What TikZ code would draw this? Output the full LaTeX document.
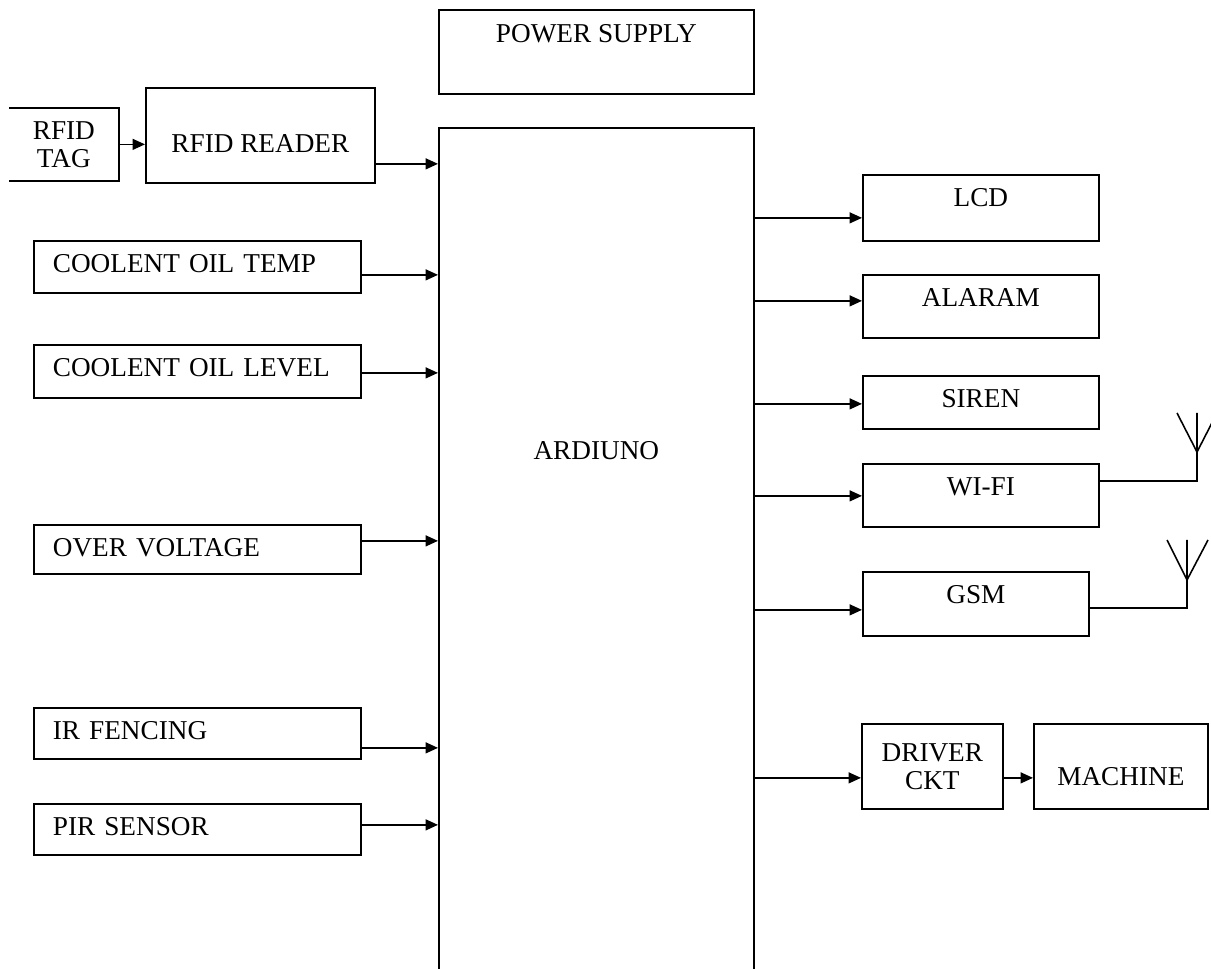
\documentclass[tikz,border=0pt]{standalone}
\usepackage{fontspec}
\setmainfont{Liberation Serif}
\usepackage{tikz}
\usetikzlibrary{arrows.meta}

\begin{document}
\begin{tikzpicture}[
    x=0.02cm, y=-0.02cm,
    font=\fontsize{15.5}{16}\selectfont,
    box/.style={rectangle, draw=black, line width=1pt, inner ysep=0pt, text height=0.64cm, anchor=north west, align=center},
    plainbox/.style={rectangle, draw=black, line width=1pt, anchor=north west, align=center},
    sensor/.style={box, minimum width=6.54cm, text width=5.78cm, inner xsep=0.38cm, align=left},
    output/.style={box, minimum width=4.72cm},
    arrow/.style={-{Triangle[length=2.5mm, width=2.2mm]}, line width=0.9pt},
    wire/.style={line width=0.9pt}
]
\useasboundingbox (0,0) rectangle (1211,969);
\clip (0,0) rectangle (1211,969);

% controller and supply
\node[box, minimum width=6.3cm, text depth=1.03cm] (power) at (438,9.5) {POWER SUPPLY};
\node[box, minimum width=6.3cm, text height=6.64cm, text depth=11cm] (ard) at (438,127) {ARDIUNO};

% inputs
\node[plainbox, draw=none, minimum width=2.16cm, minimum height=1.42cm] (tag) at (9,108) {RFID\\TAG};
\draw[wire] (tag.north west) -- (tag.north east) -- (tag.south east) -- (tag.south west);
\node[box, minimum width=4.58cm, text height=1.3cm, text depth=0.6cm] (reader) at (145,87) {RFID READER};
\node[sensor, text depth=0.4cm] (temp) at (33,240) {COOLENT OIL TEMP};
\node[sensor, text depth=0.42cm] (level) at (33,344) {COOLENT OIL LEVEL};
\node[sensor, text depth=0.34cm] (volt) at (33,524) {OVER VOLTAGE};
\node[sensor, text depth=0.38cm] (ir) at (33,707) {IR FENCING};
\node[sensor, text depth=0.38cm] (pir) at (33,803) {PIR SENSOR};

% outputs
\node[output, text depth=0.68cm] (lcd) at (862,174) {LCD};
\node[output, text depth=0.62cm] (alarm) at (862,274) {ALARAM};
\node[output, text depth=0.42cm] (siren) at (862,375) {SIREN};
\node[output, text depth=0.62cm] (wifi) at (862,463) {WI-FI};
\node[output, minimum width=4.52cm, text depth=0.64cm] (gsm) at (862,571) {GSM};
\node[plainbox, minimum width=2.82cm, minimum height=1.7cm] (driver) at (861,723) {DRIVER\\CKT};
\node[box, minimum width=3.48cm, text height=1.24cm, text depth=0.46cm] (machine) at (1033,723) {MACHINE};

\draw[arrow] (tag.east) -- (tag.east -| reader.west);
\draw[arrow] ([yshift=-0.57cm]reader.east) -- ([yshift=-0.57cm]reader.east -| ard.west);
\draw[arrow] ([yshift=-0.16cm]temp.east) -- ([yshift=-0.16cm]temp.east -| ard.west);
\draw[arrow] ([yshift=-0.03cm]level.east) -- ([yshift=-0.03cm]level.east -| ard.west);
\draw[arrow] ([yshift=0.17cm]volt.east) -- ([yshift=0.17cm]volt.east -| ard.west);
\draw[arrow] ([yshift=-0.29cm]ir.east) -- ([yshift=-0.29cm]ir.east -| ard.west);
\draw[arrow] ([yshift=0.09cm]pir.east) -- ([yshift=0.09cm]pir.east -| ard.west);

\draw[arrow] ([yshift=-0.2cm]lcd.west -| ard.east) -- ([yshift=-0.2cm]lcd.west);
\draw[arrow] ([yshift=0.11cm]alarm.west -| ard.east) -- ([yshift=0.11cm]alarm.west);
\draw[arrow] ([yshift=-0.03cm]siren.west -| ard.east) -- ([yshift=-0.03cm]siren.west);
\draw[arrow] ([yshift=-0.01cm]wifi.west -| ard.east) -- ([yshift=-0.01cm]wifi.west);
\draw[arrow] ([yshift=-0.12cm]gsm.west -| ard.east) -- ([yshift=-0.12cm]gsm.west);
\draw[arrow] ([yshift=-0.23cm]driver.west -| ard.east) -- ([yshift=-0.23cm]driver.west);
\draw[arrow] ([yshift=-0.23cm]driver.east) -- ([yshift=-0.23cm]driver.east -| machine.west);

% antennas
\coordinate (wifiant) at (1197,452);
\coordinate (gsmant) at (1187,580);
\draw[wire] ([yshift=0.29cm]wifi.east) -| (wifiant);
\draw[wire] (wifiant) -- ++(0,-39) (wifiant) -- ++(-20,-39) (wifiant) -- ++(20,-39);
\draw[wire] ([yshift=-0.08cm]gsm.east) -| (gsmant);
\draw[wire] (gsmant) -- ++(0,-40) (gsmant) -- ++(-20,-40) (gsmant) -- ++(21,-40);
\end{tikzpicture}
\end{document}
